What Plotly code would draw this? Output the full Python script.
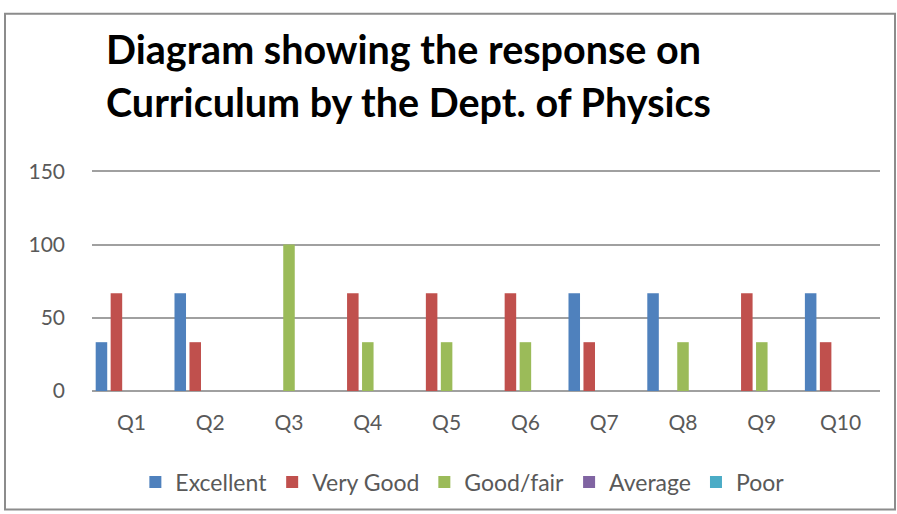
import plotly.graph_objects as go

# Data
questions = ["Q1", "Q2", "Q3", "Q4", "Q5", "Q6", "Q7", "Q8", "Q9", "Q10"]
excellent = [33.33, 66.67, 0, 0, 0, 0, 66.67, 66.67, 0, 66.67]
very_good = [66.67, 33.33, 0, 66.67, 66.67, 66.67, 33.33, 0, 66.67, 33.33]
good_fair = [0, 0, 100, 33.33, 33.33, 33.33, 0, 33.33, 33.33, 0]
average = [0, 0, 0, 0, 0, 0, 0, 0, 0, 0]
poor = [0, 0, 0, 0, 0, 0, 0, 0, 0, 0]
y_ticks = [0, 50, 100, 150]

series = [
    ("Excellent", excellent, "#4F81BD"),
    ("Very Good", very_good, "#C0504D"),
    ("Good/fair", good_fair, "#9BBB59"),
    ("Average", average, "#8064A2"),
    ("Poor", poor, "#4BACC6"),
]

fig = go.Figure()
for name, vals, color in series:
    fig.add_trace(go.Bar(x=questions, y=vals, name=name, marker_color=color,
                         marker_line_width=0))

FONT = "Lato, Calibri, Arial, sans-serif"
PH = 228  # plot height in px (514 - 164 - 122)

def py(pix):
    # page pixel row -> paper y
    return (392 - pix) / PH

fig.update_layout(
    width=897, height=514,
    margin=dict(l=92, r=17, t=164, b=122),
    paper_bgcolor="white", plot_bgcolor="white",
    barmode="group", bargap=0.05, bargroupgap=0.23,
    font=dict(family=FONT, color="#595959", size=21),
    showlegend=True,
    legend=dict(orientation="h", x=0.47, xanchor="center", y=py(482), yanchor="middle",
                font=dict(size=23, color="#595959"), itemwidth=30,
                traceorder="normal"),
    xaxis=dict(showgrid=False, ticks="", showline=False, ticklabelstandoff=17,
               tickfont=dict(size=21, color="#595959")),
    yaxis=dict(range=[0, 155], tickvals=y_ticks, showgrid=True,
               gridcolor="#a0a0a0", gridwidth=1.6, zeroline=True,
               zerolinecolor="#a0a0a0", zerolinewidth=1.6, showline=False,
               ticks="", ticklabelstandoff=26,
               tickfont=dict(size=21, color="#595959")),
)

# title, two lines
fig.add_annotation(text="<b>Diagram showing the response on</b>", xref="paper", yref="paper",
                   x=(104 - 92) / 788, y=py(48), xanchor="left", yanchor="middle",
                   showarrow=False, font=dict(family=FONT, size=39.5, color="black"))
fig.add_annotation(text="<b>Curriculum by the Dept. of Physics</b>", xref="paper", yref="paper",
                   x=(104 - 92) / 788, y=py(101), xanchor="left", yanchor="middle",
                   showarrow=False, font=dict(family=FONT, size=39.5, color="black"))

# outer frame of the chart
fig.add_shape(type="rect", xref="paper", yref="paper",
              x0=(5 - 92) / 788, x1=(895 - 92) / 788,
              y0=py(511), y1=py(13),
              line=dict(color="#8c8c8c", width=2), fillcolor="rgba(0,0,0,0)", layer="below")

fig.write_html("out.html", config={"displayModeBar": False},
               post_script="document.body.style.margin='0';")
